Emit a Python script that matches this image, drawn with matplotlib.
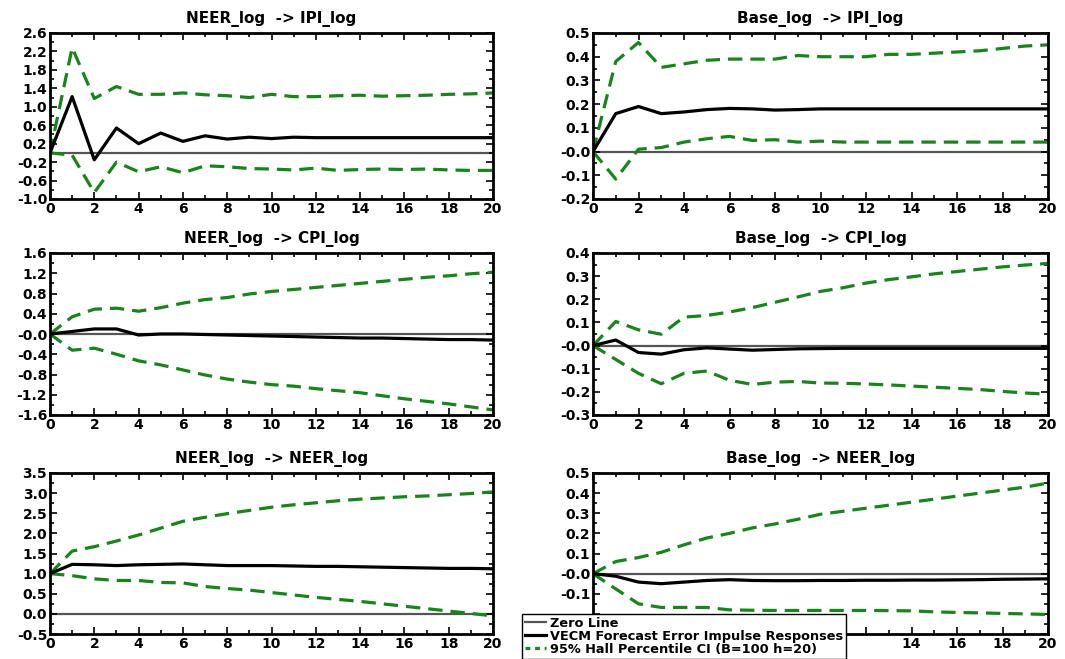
import numpy as np
import matplotlib
matplotlib.use('Agg')
import matplotlib.pyplot as plt
from matplotlib.ticker import MultipleLocator, FixedLocator
from matplotlib.lines import Line2D

plt.rcParams['font.family'] = 'DejaVu Sans'
plt.rcParams['font.weight'] = 'bold'

horizon = list(range(21))

titles = ['NEER_log  -> IPI_log', 'Base_log  -> IPI_log',
          'NEER_log  -> CPI_log', 'Base_log  -> CPI_log',
          'NEER_log  -> NEER_log', 'Base_log  -> NEER_log']

# impulse responses (black) per panel
irf_neer_ipi = [0, 1.22, -0.15, 0.54, 0.20, 0.43, 0.25, 0.37, 0.30, 0.34, 0.31,
                0.34, 0.33, 0.33, 0.33, 0.33, 0.33, 0.33, 0.33, 0.33, 0.33]
irf_base_ipi = [0, 0.16, 0.19, 0.16, 0.167, 0.177, 0.182, 0.18, 0.175, 0.177, 0.18,
                0.18, 0.18, 0.18, 0.18, 0.18, 0.18, 0.18, 0.18, 0.18, 0.18]
irf_neer_cpi = [0, 0.05, 0.10, 0.10, -0.02, 0.0, 0.0, -0.01, -0.02, -0.03, -0.04,
                -0.05, -0.06, -0.07, -0.08, -0.08, -0.09, -0.10, -0.11, -0.11, -0.12]
irf_base_cpi = [0, 0.024, -0.03, -0.037, -0.018, -0.01, -0.015, -0.02, -0.017, -0.014, -0.013,
                -0.012, -0.012, -0.012, -0.012, -0.012, -0.012, -0.012, -0.012, -0.012, -0.012]
irf_neer_neer = [1.0, 1.23, 1.22, 1.20, 1.22, 1.23, 1.24, 1.22, 1.20, 1.20, 1.20,
                 1.19, 1.18, 1.18, 1.17, 1.16, 1.15, 1.14, 1.13, 1.13, 1.12]
irf_base_neer = [0, -0.013, -0.042, -0.05, -0.042, -0.034, -0.03, -0.034, -0.035, -0.035, -0.034,
                 -0.034, -0.033, -0.033, -0.032, -0.032, -0.031, -0.03, -0.028, -0.027, -0.026]

# upper CI bounds
up_neer_ipi = [0, 2.28, 1.18, 1.44, 1.27, 1.27, 1.30, 1.26, 1.24, 1.20, 1.27,
               1.22, 1.22, 1.24, 1.25, 1.23, 1.24, 1.25, 1.27, 1.28, 1.30]
up_base_ipi = [0, 0.38, 0.46, 0.355, 0.37, 0.385, 0.39, 0.39, 0.39, 0.405, 0.40,
               0.40, 0.40, 0.41, 0.41, 0.415, 0.42, 0.425, 0.435, 0.445, 0.45]
up_neer_cpi = [0, 0.34, 0.49, 0.51, 0.45, 0.52, 0.61, 0.68, 0.72, 0.79, 0.84,
               0.88, 0.92, 0.96, 1.00, 1.04, 1.08, 1.12, 1.15, 1.19, 1.22]
up_base_cpi = [0, 0.104, 0.068, 0.049, 0.123, 0.13, 0.145, 0.164, 0.187, 0.21, 0.234,
               0.25, 0.27, 0.285, 0.297, 0.31, 0.32, 0.33, 0.34, 0.348, 0.355]
up_neer_neer = [1.0, 1.56, 1.67, 1.81, 1.96, 2.13, 2.30, 2.40, 2.49, 2.57, 2.65,
                2.71, 2.76, 2.81, 2.85, 2.88, 2.91, 2.93, 2.96, 2.99, 3.03]
up_base_neer = [0, 0.06, 0.08, 0.106, 0.143, 0.177, 0.20, 0.227, 0.247, 0.27, 0.295,
                0.31, 0.325, 0.34, 0.355, 0.37, 0.385, 0.40, 0.415, 0.43, 0.45]

# lower CI bounds
lo_neer_ipi = [0, -0.05, -0.86, -0.20, -0.41, -0.30, -0.43, -0.28, -0.30, -0.34, -0.35,
               -0.37, -0.33, -0.38, -0.36, -0.35, -0.36, -0.35, -0.37, -0.38, -0.38]
lo_base_ipi = [0, -0.116, 0.01, 0.017, 0.04, 0.054, 0.064, 0.047, 0.05, 0.04, 0.044,
               0.04, 0.04, 0.04, 0.04, 0.04, 0.04, 0.04, 0.04, 0.04, 0.04]
lo_neer_cpi = [0, -0.32, -0.28, -0.40, -0.53, -0.61, -0.71, -0.81, -0.89, -0.95, -1.00,
               -1.03, -1.08, -1.12, -1.16, -1.22, -1.28, -1.33, -1.38, -1.44, -1.50]
lo_base_cpi = [0, -0.06, -0.12, -0.165, -0.12, -0.11, -0.15, -0.168, -0.158, -0.155, -0.162,
               -0.163, -0.166, -0.17, -0.175, -0.18, -0.185, -0.19, -0.198, -0.205, -0.21]
lo_neer_neer = [1.0, 0.95, 0.87, 0.83, 0.83, 0.78, 0.77, 0.68, 0.63, 0.59, 0.53,
                0.47, 0.41, 0.36, 0.31, 0.25, 0.19, 0.13, 0.07, 0.01, -0.05]
lo_base_neer = [0, -0.076, -0.15, -0.168, -0.168, -0.168, -0.18, -0.182, -0.183, -0.183, -0.183,
                -0.183, -0.183, -0.184, -0.185, -0.19, -0.193, -0.195, -0.198, -0.20, -0.203]

irfs = [irf_neer_ipi, irf_base_ipi, irf_neer_cpi, irf_base_cpi, irf_neer_neer, irf_base_neer]
uppers = [up_neer_ipi, up_base_ipi, up_neer_cpi, up_base_cpi, up_neer_neer, up_base_neer]
lowers = [lo_neer_ipi, lo_base_ipi, lo_neer_cpi, lo_base_cpi, lo_neer_neer, lo_base_neer]

# y tick values and labels per panel
yticks = [
    [-1.0, -0.6, -0.2, 0.2, 0.6, 1.0, 1.4, 1.8, 2.2, 2.6],
    [-0.2, -0.1, 0.0, 0.1, 0.2, 0.3, 0.4, 0.5],
    [-1.6, -1.2, -0.8, -0.4, 0.0, 0.4, 0.8, 1.2, 1.6],
    [-0.3, -0.2, -0.1, 0.0, 0.1, 0.2, 0.3, 0.4],
    [-0.5, 0.0, 0.5, 1.0, 1.5, 2.0, 2.5, 3.0, 3.5],
    [-0.3, -0.2, -0.1, 0.0, 0.1, 0.2, 0.3, 0.4, 0.5],
]
ylabels = [
    ['-1.0', '-0.6', '-0.2', '0.2', '0.6', '1.0', '1.4', '1.8', '2.2', '2.6'],
    ['-0.2', '-0.1', '-0.0', '0.1', '0.2', '0.3', '0.4', '0.5'],
    ['-1.6', '-1.2', '-0.8', '-0.4', '-0.0', '0.4', '0.8', '1.2', '1.6'],
    ['-0.3', '-0.2', '-0.1', '-0.0', '0.1', '0.2', '0.3', '0.4'],
    ['-0.5', '0.0', '0.5', '1.0', '1.5', '2.0', '2.5', '3.0', '3.5'],
    # the two lowest labels sit under the legend in the original
    ['', '', '-0.1', '-0.0', '0.1', '0.2', '0.3', '0.4', '0.5'],
]
xlabels_full = ['0', '2', '4', '6', '8', '10', '12', '14', '16', '18', '20']
xlabels_hidden = ['', '', '', '', '', '', '', '14', '16', '18', '20']

GREEN = '#17851a'
GREY = '#555555'

fig = plt.figure(figsize=(10.65, 6.59), dpi=100)
W, H = 1065, 659
cols = [(50, 493), (593, 1048)]
rows = [(33, 199), (253, 415), (473, 634)]

axes = []
for r, (t, b) in enumerate(rows):
    for c, (l, rr) in enumerate(cols):
        ax = fig.add_axes([l / W, 1 - b / H, (rr - l) / W, (b - t) / H])
        axes.append(ax)

for i, ax in enumerate(axes):
    ax.axhline(0, color=GREY, lw=1.6, zorder=1)
    ax.plot(horizon, irfs[i], color='black', lw=2.3, zorder=3)
    ax.plot(horizon, uppers[i], color=GREEN, lw=2.3, dashes=(4.5, 2.5), zorder=2)
    ax.plot(horizon, lowers[i], color=GREEN, lw=2.3, dashes=(4.5, 2.5), zorder=2)
    ax.set_xlim(0, 20)
    ax.set_ylim(yticks[i][0], yticks[i][-1])
    ax.xaxis.set_major_locator(FixedLocator(horizon[::2]))
    ax.xaxis.set_minor_locator(MultipleLocator(1))
    ax.set_xticklabels(xlabels_hidden if i == 5 else xlabels_full)
    ax.yaxis.set_major_locator(FixedLocator(yticks[i]))
    step = yticks[i][1] - yticks[i][0]
    ax.yaxis.set_minor_locator(MultipleLocator(step / 2))
    ax.set_yticklabels(ylabels[i])
    ax.tick_params(which='both', direction='in', top=True, right=True,
                   labelsize=10, width=1.2, pad=2)
    ax.tick_params(which='major', length=5)
    ax.tick_params(which='minor', length=3)
    for lab in ax.get_xticklabels() + ax.get_yticklabels():
        lab.set_fontweight('bold')
    for sp in ax.spines.values():
        sp.set_linewidth(2.0)
    ax.set_title(titles[i], fontsize=11, fontweight='bold', pad=7)

handles = [Line2D([], [], color=GREY, lw=1.6),
           Line2D([], [], color='black', lw=2.3),
           Line2D([], [], color=GREEN, lw=2.3, dashes=(1.5, 1.5))]
labels = ['Zero Line', 'VECM Forecast Error Impulse Responses',
          '95% Hall Percentile CI (B=100 h=20)']
leg = fig.legend(handles, labels, loc='lower left', bbox_to_anchor=(522 / W, 0.0),
                 prop={'size': 9.3, 'weight': 'bold'}, handlelength=1.6,
                 handletextpad=0.3, labelspacing=0.0, borderpad=0.25,
                 borderaxespad=0.0, fancybox=False, framealpha=1, edgecolor='black')
leg.get_frame().set_linewidth(1.0)
leg.set_zorder(10)

fig.savefig('out.png', dpi=100)
